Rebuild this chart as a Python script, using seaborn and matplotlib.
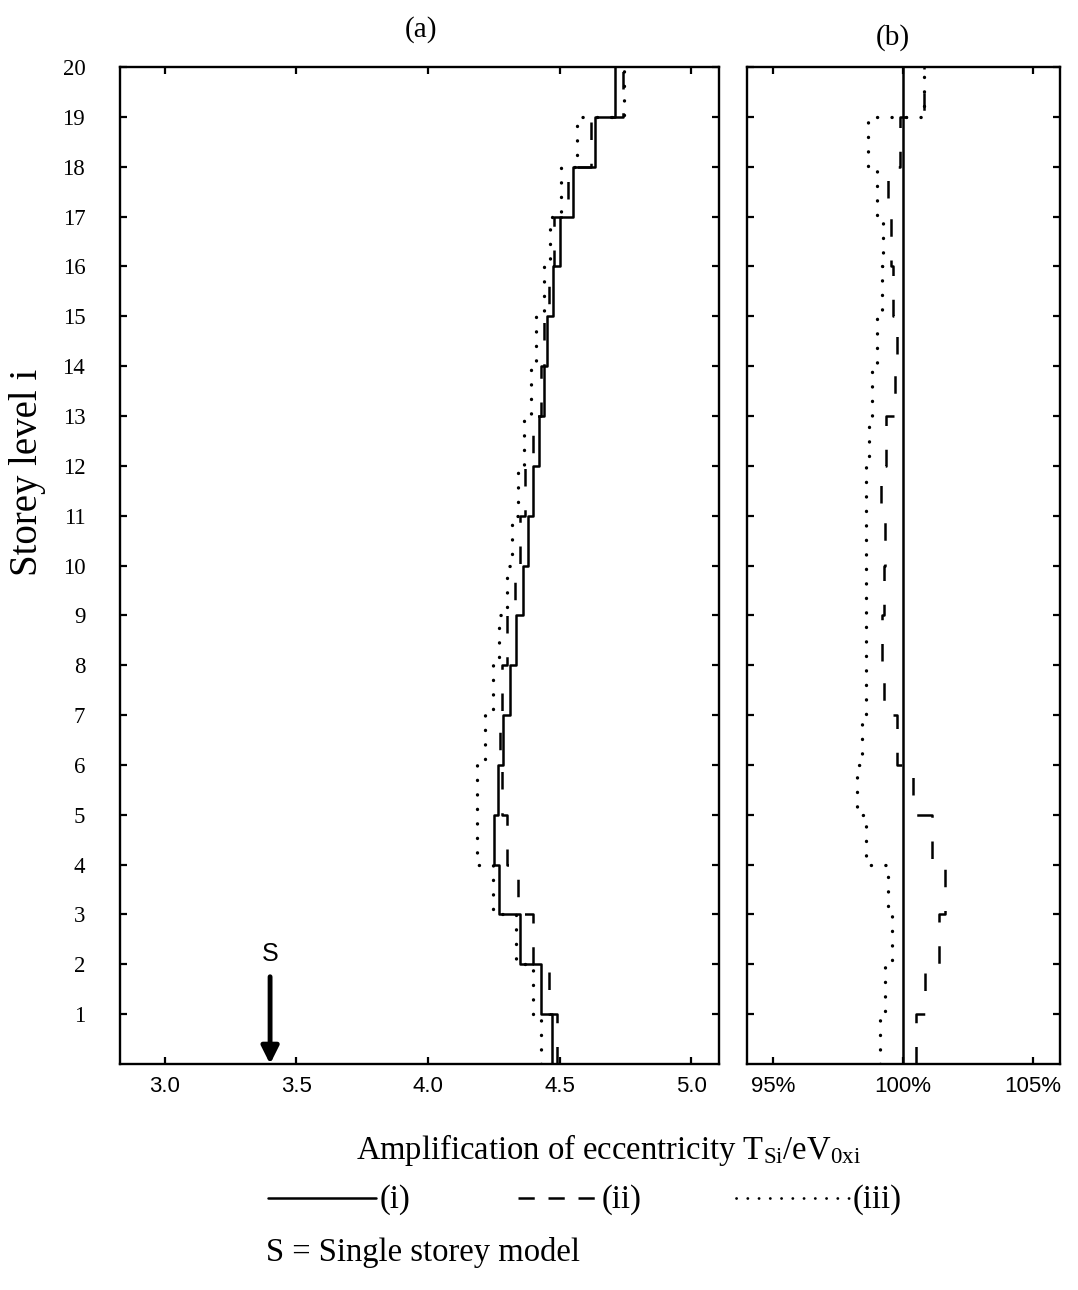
import numpy as np
import pandas as pd
import matplotlib
matplotlib.use("Agg")
import matplotlib.pyplot as plt
from matplotlib.lines import Line2D
import seaborn as sns

# ---------------- data (storey 1 .. 20) ----------------
storeys = list(range(1, 21))

# panel (a): amplification of eccentricity
amp_i = [4.47, 4.43, 4.35, 4.27, 4.25, 4.265, 4.285, 4.31, 4.335, 4.36,
         4.38, 4.40, 4.42, 4.44, 4.45, 4.475, 4.50, 4.55, 4.635, 4.71]
amp_ii = [4.49, 4.46, 4.40, 4.34, 4.30, 4.28, 4.275, 4.28, 4.30, 4.33,
          4.35, 4.37, 4.40, 4.43, 4.44, 4.46, 4.48, 4.53, 4.62, 4.74]
amp_iii = [4.428, 4.40, 4.334, 4.248, 4.187, 4.187, 4.215, 4.245, 4.27, 4.30,
           4.32, 4.34, 4.365, 4.39, 4.41, 4.44, 4.465, 4.505, 4.565, 4.745]

# panel (b): relative to case (i), percent
rel_i = [100.0, 100.0, 100.0, 100.0, 100.0, 100.0, 100.0, 100.0, 100.0, 100.0,
         100.0, 100.0, 100.0, 100.0, 100.0, 100.0, 100.0, 100.0, 100.0, 100.0]
rel_ii = [100.52, 100.84, 101.38, 101.63, 101.14, 100.40, 99.79, 99.28, 99.21, 99.27,
          99.30, 99.15, 99.34, 99.70, 99.77, 99.64, 99.56, 99.43, 99.89, 100.81]
rel_iii = [99.11, 99.33, 99.60, 99.43, 98.60, 98.25, 98.44, 98.58, 98.60, 98.60,
           98.58, 98.60, 98.68, 98.83, 99.02, 99.19, 99.24, 99.02, 98.64, 100.81]

single_storey = 3.40

xticks_a = [3.0, 3.5, 4.0, 4.5, 5.0]
xticklabels_a = ["3.0", "3.5", "4.0", "4.5", "5.0"]
xticks_b = [95, 100, 105]
xticklabels_b = ["95%", "100%", "105%"]
yticks = storeys
yticklabels = [str(s) for s in storeys]


def step_frame(values):
    lv = np.asarray(storeys, dtype=float)
    ys = np.column_stack([lv - 1, lv]).ravel()
    xs = np.repeat(np.asarray(values, dtype=float), 2)
    return pd.DataFrame({"value": xs, "level": ys})


# ---------------- style ----------------
sns.set_theme(style="ticks")
plt.rcParams["font.family"] = ["Liberation Serif", "DejaVu Serif"]
plt.rcParams["mathtext.fontset"] = "custom"
plt.rcParams["mathtext.rm"] = "Liberation Serif"
plt.rcParams["mathtext.it"] = "Liberation Serif:italic"
for key in ("axes.edgecolor", "text.color", "axes.labelcolor",
            "xtick.color", "ytick.color"):
    plt.rcParams[key] = "black"

W, H = 1078, 1290
fig = plt.figure(figsize=(W / 100, H / 100), dpi=100)
fig.patch.set_facecolor("white")

top, bottom = 67, 1064
axA = fig.add_axes([120 / W, 1 - bottom / H, 599 / W, (bottom - top) / H])
axB = fig.add_axes([747 / W, 1 - bottom / H, 313 / W, (bottom - top) / H])

LW = 1.8
dash_ii = (7.0, 9.5)
dot_iii = (0.05, 4.3)

for ax, (si, sii, siii) in ((axA, (amp_i, amp_ii, amp_iii)), (axB, (rel_i, rel_ii, rel_iii))):
    sns.lineplot(data=step_frame(si), x="value", y="level", sort=False, estimator=None,
                 color="black", lw=LW, ax=ax, legend=False)
    sns.lineplot(data=step_frame(sii), x="value", y="level", sort=False, estimator=None,
                 color="black", lw=LW, dashes=dash_ii, ax=ax, legend=False)
    sns.lineplot(data=step_frame(siii), x="value", y="level", sort=False, estimator=None,
                 color="black", lw=2.4, dashes=dot_iii, dash_capstyle="round",
                 ax=ax, legend=False)

for ax in (axA, axB):
    ax.set_ylim(0, 20)
    ax.set_xlabel("")
    ax.set_ylabel("")
    for sp in ax.spines.values():
        sp.set_visible(True)
        sp.set_linewidth(1.7)
        sp.set_color("black")
    ax.tick_params(direction="in", top=True, right=True, length=5, width=1.6,
                   color="black", labelcolor="black")

axA.set_xlim(2.83, 5.105)
axB.set_xlim(94.0, 106.05)

axA.set_xticks(xticks_a)
axA.set_xticklabels(xticklabels_a, fontfamily="Liberation Sans", fontsize=16)
axB.set_xticks(xticks_b)
axB.set_xticklabels(xticklabels_b, fontfamily="Liberation Sans", fontsize=16)
axA.set_yticks(yticks)
axA.set_yticklabels(yticklabels, fontsize=16.5)
axB.set_yticks(yticks)
axB.set_yticklabels([])
axA.tick_params(axis="y", pad=25)
axB.tick_params(axis="y", labelleft=False)
for ax in (axA, axB):
    ax.tick_params(axis="x", pad=9)

# single storey marker
axA.text(single_storey, 2.2, "S", ha="center", va="center", fontsize=18,
         fontfamily="Liberation Sans")
axA.annotate("", xy=(single_storey, 0.0), xytext=(single_storey, 1.75),
             arrowprops=dict(arrowstyle="-|>", lw=3.5, color="black",
                             mutation_scale=26, shrinkA=0, shrinkB=0))

# titles
fig.text(421 / W, 1 - 30 / H, "(a)", ha="center", va="center", fontsize=21)
fig.text(893 / W, 1 - 38 / H, "(b)", ha="center", va="center", fontsize=21)

# axis labels
fig.text(28 / W, 1 - 472 / H, "Storey level i", rotation=90, ha="center",
         va="center", fontsize=28)
fig.text(608 / W, 1 - 1150 / H,
         r"Amplification of eccentricity T$_{\mathrm{Si}}$/eV$_{\mathrm{0xi}}$",
         ha="center", va="center", fontsize=23.5)

# legend (drawn by hand to match layout)
ly = 1 - 1198 / H
fig.add_artist(Line2D([268 / W, 376 / W], [ly, ly], color="black", lw=1.8))
fig.text(380 / W, 1 - 1200 / H, "(i)", ha="left", va="center", fontsize=23.5)
fig.add_artist(Line2D([518 / W, 597 / W], [ly, ly], color="black", lw=1.8,
                      dashes=(6.5, 5.5)))
fig.text(602 / W, 1 - 1200 / H, "(ii)", ha="left", va="center", fontsize=23.5)
fig.add_artist(Line2D([736 / W, 850 / W], [ly, ly], color="black", lw=2.0,
                      dashes=(0.05, 4.0), dash_capstyle="round"))
fig.text(853 / W, 1 - 1200 / H, "(iii)", ha="left", va="center", fontsize=23.5)

fig.text(266 / W, 1 - 1252 / H, "S = Single storey model", ha="left",
         va="center", fontsize=23.5)

fig.savefig("out.png", dpi=100, facecolor="white")
